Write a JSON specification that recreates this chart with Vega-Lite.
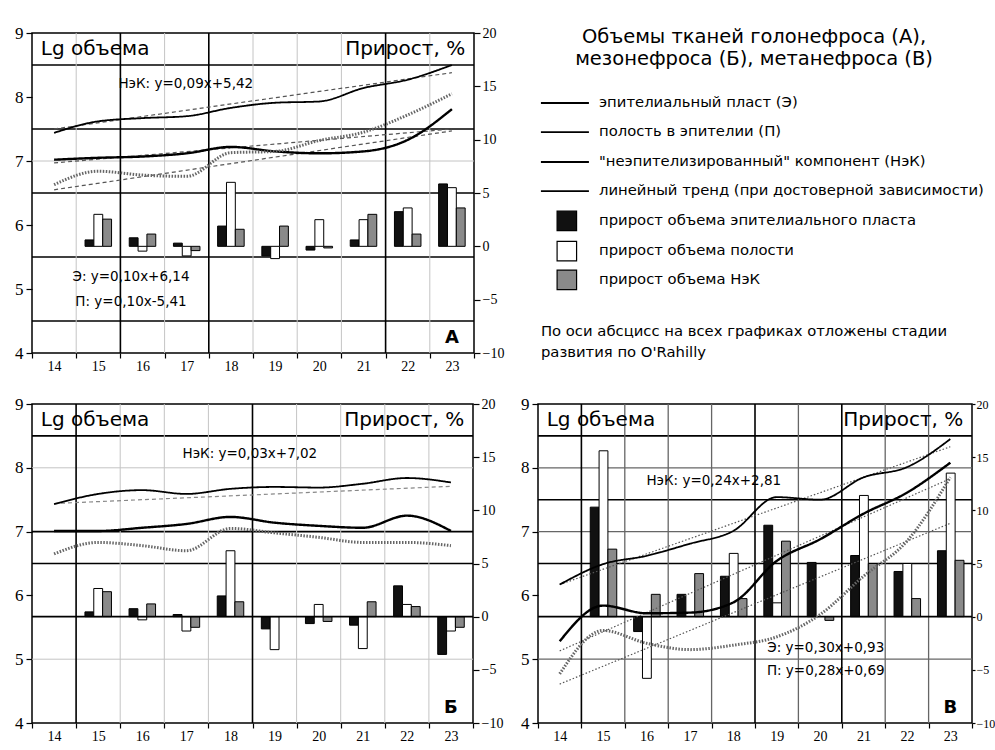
{
  "$schema": "https://vega.github.io/schema/vega-lite/v6.json",
  "background": "white",
  "padding": {"left": 13, "top": 23, "right": 0, "bottom": 0},
  "config": {
    "view": {"stroke": "#000", "strokeWidth": 1.5},
    "font": "DejaVu Sans",
    "axis": {"labelColor": "#000", "tickColor": "#000", "labelFont": "Liberation Serif", "tickWidth": 1.2}
  },
  "datasets": {
    "lines": [
      {"panel": "A", "series": "НэК", "stage": 14, "value": 7.44}, {"panel": "A", "series": "НэК", "stage": 15, "value": 7.62},
      {"panel": "A", "series": "НэК", "stage": 16, "value": 7.67}, {"panel": "A", "series": "НэК", "stage": 17, "value": 7.70},
      {"panel": "A", "series": "НэК", "stage": 18, "value": 7.83}, {"panel": "A", "series": "НэК", "stage": 19, "value": 7.91},
      {"panel": "A", "series": "НэК", "stage": 20, "value": 7.93}, {"panel": "A", "series": "НэК", "stage": 21, "value": 8.14},
      {"panel": "A", "series": "НэК", "stage": 22, "value": 8.27}, {"panel": "A", "series": "НэК", "stage": 23, "value": 8.50},
      {"panel": "A", "series": "Э", "stage": 14, "value": 7.02}, {"panel": "A", "series": "Э", "stage": 15, "value": 7.05},
      {"panel": "A", "series": "Э", "stage": 16, "value": 7.07}, {"panel": "A", "series": "Э", "stage": 17, "value": 7.12},
      {"panel": "A", "series": "Э", "stage": 18, "value": 7.22}, {"panel": "A", "series": "Э", "stage": 19, "value": 7.15},
      {"panel": "A", "series": "Э", "stage": 20, "value": 7.12}, {"panel": "A", "series": "Э", "stage": 21, "value": 7.15},
      {"panel": "A", "series": "Э", "stage": 22, "value": 7.33}, {"panel": "A", "series": "Э", "stage": 23, "value": 7.81},
      {"panel": "A", "series": "П", "stage": 14, "value": 6.63}, {"panel": "A", "series": "П", "stage": 15, "value": 6.84},
      {"panel": "A", "series": "П", "stage": 16, "value": 6.78}, {"panel": "A", "series": "П", "stage": 17, "value": 6.76},
      {"panel": "A", "series": "П", "stage": 18, "value": 7.13}, {"panel": "A", "series": "П", "stage": 19, "value": 7.15},
      {"panel": "A", "series": "П", "stage": 20, "value": 7.32}, {"panel": "A", "series": "П", "stage": 21, "value": 7.45},
      {"panel": "A", "series": "П", "stage": 22, "value": 7.72}, {"panel": "A", "series": "П", "stage": 23, "value": 8.05},
      {"panel": "B", "series": "НэК", "stage": 14, "value": 7.43}, {"panel": "B", "series": "НэК", "stage": 15, "value": 7.59},
      {"panel": "B", "series": "НэК", "stage": 16, "value": 7.65}, {"panel": "B", "series": "НэК", "stage": 17, "value": 7.59},
      {"panel": "B", "series": "НэК", "stage": 18, "value": 7.67}, {"panel": "B", "series": "НэК", "stage": 19, "value": 7.70},
      {"panel": "B", "series": "НэК", "stage": 20, "value": 7.69}, {"panel": "B", "series": "НэК", "stage": 21, "value": 7.75},
      {"panel": "B", "series": "НэК", "stage": 22, "value": 7.84}, {"panel": "B", "series": "НэК", "stage": 23, "value": 7.77},
      {"panel": "B", "series": "Э", "stage": 14, "value": 7.01}, {"panel": "B", "series": "Э", "stage": 15, "value": 7.01},
      {"panel": "B", "series": "Э", "stage": 16, "value": 7.06}, {"panel": "B", "series": "Э", "stage": 17, "value": 7.12},
      {"panel": "B", "series": "Э", "stage": 18, "value": 7.23}, {"panel": "B", "series": "Э", "stage": 19, "value": 7.14},
      {"panel": "B", "series": "Э", "stage": 20, "value": 7.09}, {"panel": "B", "series": "Э", "stage": 21, "value": 7.06},
      {"panel": "B", "series": "Э", "stage": 22, "value": 7.25}, {"panel": "B", "series": "Э", "stage": 23, "value": 7.01},
      {"panel": "B", "series": "П", "stage": 14, "value": 6.65}, {"panel": "B", "series": "П", "stage": 15, "value": 6.83},
      {"panel": "B", "series": "П", "stage": 16, "value": 6.78}, {"panel": "B", "series": "П", "stage": 17, "value": 6.70},
      {"panel": "B", "series": "П", "stage": 18, "value": 7.05}, {"panel": "B", "series": "П", "stage": 19, "value": 6.98},
      {"panel": "B", "series": "П", "stage": 20, "value": 6.91}, {"panel": "B", "series": "П", "stage": 21, "value": 6.83},
      {"panel": "B", "series": "П", "stage": 22, "value": 6.83}, {"panel": "B", "series": "П", "stage": 23, "value": 6.78},
      {"panel": "V", "series": "НэК", "stage": 14, "value": 6.17}, {"panel": "V", "series": "НэК", "stage": 15, "value": 6.49},
      {"panel": "V", "series": "НэК", "stage": 16, "value": 6.62}, {"panel": "V", "series": "НэК", "stage": 17, "value": 6.81},
      {"panel": "V", "series": "НэК", "stage": 18, "value": 7.01}, {"panel": "V", "series": "НэК", "stage": 19, "value": 7.54},
      {"panel": "V", "series": "НэК", "stage": 20, "value": 7.50}, {"panel": "V", "series": "НэК", "stage": 21, "value": 7.85},
      {"panel": "V", "series": "НэК", "stage": 22, "value": 8.01}, {"panel": "V", "series": "НэК", "stage": 23, "value": 8.45},
      {"panel": "V", "series": "Э", "stage": 14, "value": 5.28}, {"panel": "V", "series": "Э", "stage": 15, "value": 5.84},
      {"panel": "V", "series": "Э", "stage": 16, "value": 5.72}, {"panel": "V", "series": "Э", "stage": 17, "value": 5.73},
      {"panel": "V", "series": "Э", "stage": 18, "value": 5.89}, {"panel": "V", "series": "Э", "stage": 19, "value": 6.54},
      {"panel": "V", "series": "Э", "stage": 20, "value": 6.88}, {"panel": "V", "series": "Э", "stage": 21, "value": 7.28},
      {"panel": "V", "series": "Э", "stage": 22, "value": 7.61}, {"panel": "V", "series": "Э", "stage": 23, "value": 8.08},
      {"panel": "V", "series": "П", "stage": 14, "value": 4.77}, {"panel": "V", "series": "П", "stage": 15, "value": 5.45},
      {"panel": "V", "series": "П", "stage": 16, "value": 5.25}, {"panel": "V", "series": "П", "stage": 17, "value": 5.15},
      {"panel": "V", "series": "П", "stage": 18, "value": 5.22}, {"panel": "V", "series": "П", "stage": 19, "value": 5.35},
      {"panel": "V", "series": "П", "stage": 20, "value": 5.70}, {"panel": "V", "series": "П", "stage": 21, "value": 6.30},
      {"panel": "V", "series": "П", "stage": 22, "value": 6.85}, {"panel": "V", "series": "П", "stage": 23, "value": 7.85}
    ],
    "trends": [
      {"panel": "A", "series": "НэК", "stage": 14, "value": 7.50}, {"panel": "A", "series": "НэК", "stage": 23, "value": 8.38},
      {"panel": "A", "series": "Э", "stage": 14, "value": 6.97}, {"panel": "A", "series": "Э", "stage": 23, "value": 7.50},
      {"panel": "A", "series": "П", "stage": 14, "value": 6.55}, {"panel": "A", "series": "П", "stage": 23, "value": 7.47},
      {"panel": "B", "series": "НэК", "stage": 14, "value": 7.44}, {"panel": "B", "series": "НэК", "stage": 23, "value": 7.71},
      {"panel": "V", "series": "НэК", "stage": 14, "value": 6.17}, {"panel": "V", "series": "НэК", "stage": 23, "value": 8.33},
      {"panel": "V", "series": "Э", "stage": 14, "value": 5.13}, {"panel": "V", "series": "Э", "stage": 23, "value": 7.83},
      {"panel": "V", "series": "П", "stage": 14, "value": 4.61}, {"panel": "V", "series": "П", "stage": 23, "value": 7.13}
    ],
    "bars": [
      {"panel": "A", "stage": 15, "series": "Э", "growth": 0.6}, {"panel": "A", "stage": 15, "series": "П", "growth": 3.0}, {"panel": "A", "stage": 15, "series": "НэК", "growth": 2.55},
      {"panel": "A", "stage": 16, "series": "Э", "growth": 0.8}, {"panel": "A", "stage": 16, "series": "П", "growth": -0.45}, {"panel": "A", "stage": 16, "series": "НэК", "growth": 1.15},
      {"panel": "A", "stage": 17, "series": "Э", "growth": 0.3}, {"panel": "A", "stage": 17, "series": "П", "growth": -0.9}, {"panel": "A", "stage": 17, "series": "НэК", "growth": -0.4},
      {"panel": "A", "stage": 18, "series": "Э", "growth": 1.9}, {"panel": "A", "stage": 18, "series": "П", "growth": 6.0}, {"panel": "A", "stage": 18, "series": "НэК", "growth": 1.6},
      {"panel": "A", "stage": 19, "series": "Э", "growth": -0.9}, {"panel": "A", "stage": 19, "series": "П", "growth": -1.15}, {"panel": "A", "stage": 19, "series": "НэК", "growth": 1.9},
      {"panel": "A", "stage": 20, "series": "Э", "growth": -0.35}, {"panel": "A", "stage": 20, "series": "П", "growth": 2.5}, {"panel": "A", "stage": 20, "series": "НэК", "growth": -0.15},
      {"panel": "A", "stage": 21, "series": "Э", "growth": 0.6}, {"panel": "A", "stage": 21, "series": "П", "growth": 2.5}, {"panel": "A", "stage": 21, "series": "НэК", "growth": 3.0},
      {"panel": "A", "stage": 22, "series": "Э", "growth": 3.25}, {"panel": "A", "stage": 22, "series": "П", "growth": 3.6}, {"panel": "A", "stage": 22, "series": "НэК", "growth": 1.15},
      {"panel": "A", "stage": 23, "series": "Э", "growth": 5.85}, {"panel": "A", "stage": 23, "series": "П", "growth": 5.5}, {"panel": "A", "stage": 23, "series": "НэК", "growth": 3.6},
      {"panel": "B", "stage": 15, "series": "Э", "growth": 0.45}, {"panel": "B", "stage": 15, "series": "П", "growth": 2.65}, {"panel": "B", "stage": 15, "series": "НэК", "growth": 2.35},
      {"panel": "B", "stage": 16, "series": "Э", "growth": 0.75}, {"panel": "B", "stage": 16, "series": "П", "growth": -0.3}, {"panel": "B", "stage": 16, "series": "НэК", "growth": 1.2},
      {"panel": "B", "stage": 17, "series": "Э", "growth": 0.2}, {"panel": "B", "stage": 17, "series": "П", "growth": -1.35}, {"panel": "B", "stage": 17, "series": "НэК", "growth": -1.0},
      {"panel": "B", "stage": 18, "series": "Э", "growth": 1.95}, {"panel": "B", "stage": 18, "series": "П", "growth": 6.2}, {"panel": "B", "stage": 18, "series": "НэК", "growth": 1.4},
      {"panel": "B", "stage": 19, "series": "Э", "growth": -1.15}, {"panel": "B", "stage": 19, "series": "П", "growth": -3.1},
      {"panel": "B", "stage": 20, "series": "Э", "growth": -0.65}, {"panel": "B", "stage": 20, "series": "П", "growth": 1.15}, {"panel": "B", "stage": 20, "series": "НэК", "growth": -0.45},
      {"panel": "B", "stage": 21, "series": "Э", "growth": -0.8}, {"panel": "B", "stage": 21, "series": "П", "growth": -3.0}, {"panel": "B", "stage": 21, "series": "НэК", "growth": 1.4},
      {"panel": "B", "stage": 22, "series": "Э", "growth": 2.9}, {"panel": "B", "stage": 22, "series": "П", "growth": 1.15}, {"panel": "B", "stage": 22, "series": "НэК", "growth": 0.95},
      {"panel": "B", "stage": 23, "series": "Э", "growth": -3.55}, {"panel": "B", "stage": 23, "series": "П", "growth": -1.35}, {"panel": "B", "stage": 23, "series": "НэК", "growth": -1.0},
      {"panel": "V", "stage": 15, "series": "Э", "growth": 10.3}, {"panel": "V", "stage": 15, "series": "П", "growth": 15.6}, {"panel": "V", "stage": 15, "series": "НэК", "growth": 6.35},
      {"panel": "V", "stage": 16, "series": "Э", "growth": -1.4}, {"panel": "V", "stage": 16, "series": "П", "growth": -5.8}, {"panel": "V", "stage": 16, "series": "НэК", "growth": 2.1},
      {"panel": "V", "stage": 17, "series": "Э", "growth": 2.1}, {"panel": "V", "stage": 17, "series": "НэК", "growth": 4.05},
      {"panel": "V", "stage": 18, "series": "Э", "growth": 3.8}, {"panel": "V", "stage": 18, "series": "П", "growth": 5.95}, {"panel": "V", "stage": 18, "series": "НэК", "growth": 1.7},
      {"panel": "V", "stage": 19, "series": "Э", "growth": 8.6}, {"panel": "V", "stage": 19, "series": "П", "growth": 1.3}, {"panel": "V", "stage": 19, "series": "НэК", "growth": 7.1},
      {"panel": "V", "stage": 20, "series": "Э", "growth": 5.1}, {"panel": "V", "stage": 20, "series": "НэК", "growth": -0.35},
      {"panel": "V", "stage": 21, "series": "Э", "growth": 5.75}, {"panel": "V", "stage": 21, "series": "П", "growth": 11.4}, {"panel": "V", "stage": 21, "series": "НэК", "growth": 5.0},
      {"panel": "V", "stage": 22, "series": "Э", "growth": 4.25}, {"panel": "V", "stage": 22, "series": "П", "growth": 5.0}, {"panel": "V", "stage": 22, "series": "НэК", "growth": 1.7},
      {"panel": "V", "stage": 23, "series": "Э", "growth": 6.2}, {"panel": "V", "stage": 23, "series": "П", "growth": 13.5}, {"panel": "V", "stage": 23, "series": "НэК", "growth": 5.3}
    ],
    "hgrid": [
      {"panel": "A", "level": 8.5, "kind": "strong"}, {"panel": "A", "level": 7.5, "kind": "strong"}, {"panel": "A", "level": 6.5, "kind": "strong"},
      {"panel": "A", "level": 5.5, "kind": "strong"}, {"panel": "A", "level": 4.5, "kind": "strong"}, {"panel": "A", "level": 7, "kind": "light"},
      {"panel": "B", "level": 8.5, "kind": "strong"}, {"panel": "B", "level": 7, "kind": "strong"}, {"panel": "B", "level": 6.5, "kind": "strong"},
      {"panel": "B", "level": 8, "kind": "light"}, {"panel": "B", "level": 5, "kind": "light"},
      {"panel": "V", "level": 8.5, "kind": "strong"}, {"panel": "V", "level": 7.5, "kind": "strong"}, {"panel": "V", "level": 6.5, "kind": "strong"},
      {"panel": "V", "level": 8, "kind": "mid"}, {"panel": "V", "level": 7, "kind": "mid"}, {"panel": "V", "level": 5, "kind": "mid"}
    ],
    "vgrid": [
      {"panel": "A", "pos": 15.5, "kind": "strong"}, {"panel": "A", "pos": 17.5, "kind": "strong"}, {"panel": "A", "pos": 21.5, "kind": "strong"},
      {"panel": "A", "pos": 14.5, "kind": "light"}, {"panel": "A", "pos": 16.5, "kind": "light"}, {"panel": "A", "pos": 18.5, "kind": "light"},
      {"panel": "A", "pos": 19.5, "kind": "light"}, {"panel": "A", "pos": 20.5, "kind": "light"}, {"panel": "A", "pos": 22.5, "kind": "light"},
      {"panel": "B", "pos": 14.5, "kind": "strong"}, {"panel": "B", "pos": 18.5, "kind": "strong"},
      {"panel": "B", "pos": 15.5, "kind": "light"}, {"panel": "B", "pos": 16.5, "kind": "light"}, {"panel": "B", "pos": 17.5, "kind": "light"},
      {"panel": "B", "pos": 19.5, "kind": "light"}, {"panel": "B", "pos": 20.5, "kind": "light"}, {"panel": "B", "pos": 21.5, "kind": "light"}, {"panel": "B", "pos": 22.5, "kind": "light"},
      {"panel": "V", "pos": 14.5, "kind": "strong"}, {"panel": "V", "pos": 18.5, "kind": "strong"}, {"panel": "V", "pos": 20.5, "kind": "strong"},
      {"panel": "V", "pos": 15.5, "kind": "mid"}, {"panel": "V", "pos": 16.5, "kind": "mid"}, {"panel": "V", "pos": 17.5, "kind": "mid"},
      {"panel": "V", "pos": 19.5, "kind": "mid"}, {"panel": "V", "pos": 21.5, "kind": "mid"}, {"panel": "V", "pos": 22.5, "kind": "mid"}
    ],
    "notes": [
      {"panel": "A", "role": "left", "x": 13.7, "y": 8.75, "t": "Lg объема"},
      {"panel": "A", "role": "right", "x": 23.3, "y": 8.75, "t": "Прирост, %"},
      {"panel": "A", "role": "eq", "x": 16.98, "y": 8.21, "t": "НэК: y=0,09x+5,42"},
      {"panel": "A", "role": "eq", "x": 15.74, "y": 5.18, "t": "Э: y=0,10x+6,14"},
      {"panel": "A", "role": "eq", "x": 15.74, "y": 4.8, "t": "П: y=0,10x-5,41"},
      {"panel": "A", "role": "letter", "x": 23.0, "y": 4.24, "t": "А"},
      {"panel": "B", "role": "left", "x": 13.7, "y": 8.75, "t": "Lg объема"},
      {"panel": "B", "role": "right", "x": 23.3, "y": 8.75, "t": "Прирост, %"},
      {"panel": "B", "role": "eq", "x": 18.44, "y": 8.21, "t": "НэК: y=0,03x+7,02"},
      {"panel": "B", "role": "letter", "x": 23.0, "y": 4.23, "t": "Б"},
      {"panel": "V", "role": "left", "x": 13.7, "y": 8.75, "t": "Lg объема"},
      {"panel": "V", "role": "right", "x": 23.3, "y": 8.75, "t": "Прирост, %"},
      {"panel": "V", "role": "eq", "x": 17.55, "y": 7.8, "t": "НэК: y=0,24x+2,81"},
      {"panel": "V", "role": "eq", "x": 20.13, "y": 5.18, "t": "Э: y=0,30x+0,93"},
      {"panel": "V", "role": "eq", "x": 20.13, "y": 4.82, "t": "П: y=0,28x+0,69"},
      {"panel": "V", "role": "letter", "x": 23.0, "y": 4.23, "t": "В"}
    ],
    "legendTitle": [
      {"x": 49.8, "y": 1.2, "t": "Объемы тканей голонефроса (А),"},
      {"x": 49.8, "y": 7.8, "t": "мезонефроса (Б), метанефроса (В)"}
    ],
    "legendItems": [
      {"kind": "line", "series": "Э", "y": 20.9, "t": "эпителиальный пласт (Э)"},
      {"kind": "line", "series": "П", "y": 29.6, "t": "полость в эпителии (П)"},
      {"kind": "line", "series": "НэК", "y": 38.5, "t": "\"неэпителизированный\" компонент (НэК)"},
      {"kind": "line", "series": "тренд", "y": 47.2, "t": "линейный тренд (при достоверной зависимости)"},
      {"kind": "bar", "series": "Э", "y": 56.1, "t": "прирост объема эпителиального пласта"},
      {"kind": "bar", "series": "П", "y": 65.1, "t": "прирост объема полости"},
      {"kind": "bar", "series": "НэК", "y": 73.7, "t": "прирост объема НэК"}
    ],
    "legendNote": [
      {"y": 89.3, "t": "По оси абсцисс на всех графиках отложены стадии"},
      {"y": 95.5, "t": "развития по O'Rahilly"}
    ]
  },
  "spacing": 20,
  "vconcat": [
    {
      "spacing": 10,
      "hconcat": [
        {
          "width": 442,
          "height": 320,
          "layer": [
            {
              "layer": [
                {
                  "data": {"name": "hgrid"},
                  "transform": [{"filter": "datum.panel == 'A'"}],
                  "mark": "rule",
                  "encoding": {
                    "y": {"field": "level", "type": "quantitative", "scale": {"domain": [4, 9], "nice": false, "zero": false},
                          "axis": {"orient": "left", "values": [4, 5, 6, 7, 8, 9], "title": null, "grid": false, "domain": false, "tickSize": 6, "labelFontSize": 17, "labelPadding": 3}},
                    "color": {"field": "kind", "type": "nominal", "scale": {"domain": ["strong", "mid", "light"], "range": ["#000000", "#666666", "#c4c4c4"]}, "legend": null},
                    "strokeWidth": {"field": "kind", "type": "nominal", "scale": {"domain": ["strong", "mid", "light"], "range": [1.6, 1, 1]}, "legend": null}
                  }
                },
                {
                  "data": {"name": "vgrid"},
                  "transform": [{"filter": "datum.panel == 'A'"}],
                  "mark": "rule",
                  "encoding": {
                    "x": {"field": "pos", "type": "quantitative", "scale": {"domain": [13.5, 23.5], "nice": false, "zero": false}, "axis": null},
                    "color": {"field": "kind", "type": "nominal", "legend": null},
                    "strokeWidth": {"field": "kind", "type": "nominal", "legend": null}
                  }
                }
              ]
            },
            {
              "data": {"name": "bars"},
              "transform": [{"filter": "datum.panel == 'A'"}],
              "mark": {"type": "bar", "stroke": "#000", "strokeWidth": 1},
              "encoding": {
                "x": {"field": "stage", "type": "ordinal", "scale": {"domain": [14, 15, 16, 17, 18, 19, 20, 21, 22, 23], "paddingInner": 0, "paddingOuter": 0},
                      "axis": {"orient": "bottom", "title": null, "tickBand": "extent", "labelAngle": 0, "domain": false, "grid": false, "tickSize": 5, "labelFontSize": 14, "labelPadding": 1}},
                "xOffset": {"field": "series", "type": "nominal", "scale": {"domain": ["Э", "П", "НэК"], "paddingInner": 0, "paddingOuter": 1.2}},
                "y": {"field": "growth", "type": "quantitative", "scale": {"domain": [-10, 20], "nice": false},
                      "axis": {"orient": "right", "title": null, "values": [-10, -5, 0, 5, 10, 15, 20], "grid": false, "domain": false, "tickSize": 6, "labelFontSize": 14, "labelPadding": 2}},
                "fill": {"field": "series", "type": "nominal", "scale": {"domain": ["Э", "П", "НэК"], "range": ["#111111", "#ffffff", "#8a8a8a"]}, "legend": null}
              }
            },
            {
              "layer": [
                {
                  "data": {"name": "trends"},
                  "transform": [{"filter": "datum.panel == 'A'"}],
                  "mark": {"type": "line", "color": "#555", "strokeWidth": 1.2, "strokeDash": [4, 3]},
                  "encoding": {
                    "x": {"field": "stage", "type": "quantitative", "scale": {"domain": [13.5, 23.5], "nice": false, "zero": false}, "axis": null},
                    "y": {"field": "value", "type": "quantitative", "scale": {"domain": [4, 9], "nice": false, "zero": false}, "axis": null},
                    "detail": {"field": "series", "type": "nominal"}
                  }
                },
                {
                  "data": {"name": "lines"},
                  "transform": [{"filter": "datum.panel == 'A'"}],
                  "mark": {"type": "line", "interpolate": "monotone"},
                  "encoding": {
                    "x": {"field": "stage", "type": "quantitative"},
                    "y": {"field": "value", "type": "quantitative"},
                    "color": {"field": "series", "type": "nominal", "scale": {"domain": ["НэК", "Э", "П"], "range": ["#000000", "#000000", "#666666"]}, "legend": null},
                    "strokeWidth": {"field": "series", "type": "nominal", "scale": {"domain": ["НэК", "Э", "П"], "range": [1.8, 3, 1.8]}, "legend": null},
                    "strokeDash": {"field": "series", "type": "nominal", "scale": {"domain": ["НэК", "Э", "П"], "range": [[1, 0], [1, 0], [1.5, 1.5]]}, "legend": null}
                  }
                },
                {
                  "data": {"name": "notes"},
                  "transform": [{"filter": "datum.panel == 'A' && datum.role == 'left'"}],
                  "mark": {"type": "text", "align": "left", "baseline": "middle", "fontSize": 20},
                  "encoding": {"x": {"field": "x", "type": "quantitative"}, "y": {"field": "y", "type": "quantitative"}, "text": {"field": "t"}}
                },
                {
                  "data": {"name": "notes"},
                  "transform": [{"filter": "datum.panel == 'A' && datum.role == 'right'"}],
                  "mark": {"type": "text", "align": "right", "baseline": "middle", "fontSize": 20},
                  "encoding": {"x": {"field": "x", "type": "quantitative"}, "y": {"field": "y", "type": "quantitative"}, "text": {"field": "t"}}
                },
                {
                  "data": {"name": "notes"},
                  "transform": [{"filter": "datum.panel == 'A' && datum.role == 'eq'"}],
                  "mark": {"type": "text", "align": "center", "baseline": "middle", "fontSize": 13.5},
                  "encoding": {"x": {"field": "x", "type": "quantitative"}, "y": {"field": "y", "type": "quantitative"}, "text": {"field": "t"}}
                },
                {
                  "data": {"name": "notes"},
                  "transform": [{"filter": "datum.panel == 'A' && datum.role == 'letter'"}],
                  "mark": {"type": "text", "align": "center", "baseline": "middle", "fontSize": 18, "fontWeight": "bold"},
                  "encoding": {"x": {"field": "x", "type": "quantitative"}, "y": {"field": "y", "type": "quantitative"}, "text": {"field": "t"}}
                }
              ]
            }
          ],
          "resolve": {"scale": {"x": "independent", "y": "independent", "color": "independent", "strokeWidth": "independent"}}
        },
        {
          "width": 480,
          "height": 335,
          "view": {"stroke": null},
          "layer": [
            {
              "data": {"name": "legendTitle"},
              "mark": {"type": "text", "align": "center", "baseline": "middle", "fontSize": 19.5},
              "encoding": {
                "x": {"field": "x", "type": "quantitative", "scale": {"domain": [0, 100]}, "axis": null},
                "y": {"field": "y", "type": "quantitative", "scale": {"domain": [0, 100], "reverse": true}, "axis": null},
                "text": {"field": "t"}
              }
            },
            {
              "data": {"name": "legendItems"},
              "transform": [{"filter": "datum.kind == 'line'"}],
              "mark": {"type": "rule", "color": "#000", "strokeWidth": 1.8},
              "encoding": {"x": {"datum": 5.4}, "x2": {"datum": 15.4}, "y": {"field": "y", "type": "quantitative"}}
            },
            {
              "data": {"name": "legendItems"},
              "transform": [{"filter": "datum.kind == 'bar'"}],
              "mark": {"type": "square", "size": 380, "stroke": "#000", "strokeWidth": 1.2, "opacity": 1, "filled": true},
              "encoding": {
                "x": {"datum": 10.8},
                "y": {"field": "y", "type": "quantitative"},
                "fill": {"field": "series", "type": "nominal", "scale": {"domain": ["Э", "П", "НэК"], "range": ["#111111", "#ffffff", "#8a8a8a"]}, "legend": null}
              }
            },
            {
              "data": {"name": "legendItems"},
              "mark": {"type": "text", "align": "left", "baseline": "middle", "fontSize": 14.8},
              "encoding": {"x": {"datum": 17.5}, "y": {"field": "y", "type": "quantitative"}, "text": {"field": "t"}}
            },
            {
              "data": {"name": "legendNote"},
              "mark": {"type": "text", "align": "left", "baseline": "middle", "fontSize": 14.8},
              "encoding": {"x": {"datum": 5.4}, "y": {"field": "y", "type": "quantitative"}, "text": {"field": "t"}}
            }
          ]
        }
      ]
    },
    {
      "spacing": 15,
      "hconcat": [
        {
          "width": 441,
          "height": 319,
          "layer": [
            {
              "layer": [
                {
                  "data": {"name": "hgrid"},
                  "transform": [{"filter": "datum.panel == 'B'"}],
                  "mark": "rule",
                  "encoding": {
                    "y": {"field": "level", "type": "quantitative", "scale": {"domain": [4, 9], "nice": false, "zero": false},
                          "axis": {"orient": "left", "values": [4, 5, 6, 7, 8, 9], "title": null, "grid": false, "domain": false, "tickSize": 6, "labelFontSize": 17, "labelPadding": 3}},
                    "color": {"field": "kind", "type": "nominal", "scale": {"domain": ["strong", "mid", "light"], "range": ["#000000", "#666666", "#c4c4c4"]}, "legend": null},
                    "strokeWidth": {"field": "kind", "type": "nominal", "scale": {"domain": ["strong", "mid", "light"], "range": [1.6, 1, 1]}, "legend": null}
                  }
                },
                {
                  "data": {"name": "vgrid"},
                  "transform": [{"filter": "datum.panel == 'B'"}],
                  "mark": "rule",
                  "encoding": {
                    "x": {"field": "pos", "type": "quantitative", "scale": {"domain": [13.5, 23.5], "nice": false, "zero": false}, "axis": null},
                    "color": {"field": "kind", "type": "nominal", "legend": null},
                    "strokeWidth": {"field": "kind", "type": "nominal", "legend": null}
                  }
                }
              ]
            },
            {
              "layer": [
                {
                  "data": {"name": "bars"},
                  "transform": [{"filter": "datum.panel == 'B'"}],
                  "mark": {"type": "bar", "stroke": "#000", "strokeWidth": 1},
                  "encoding": {
                    "x": {"field": "stage", "type": "ordinal", "scale": {"domain": [14, 15, 16, 17, 18, 19, 20, 21, 22, 23], "paddingInner": 0, "paddingOuter": 0},
                          "axis": {"orient": "bottom", "title": null, "tickBand": "extent", "labelAngle": 0, "domain": false, "grid": false, "tickSize": 5, "labelFontSize": 14, "labelPadding": 1}},
                    "xOffset": {"field": "series", "type": "nominal", "scale": {"domain": ["Э", "П", "НэК"], "paddingInner": 0, "paddingOuter": 1.2}},
                    "y": {"field": "growth", "type": "quantitative", "scale": {"domain": [-10, 20], "nice": false},
                          "axis": {"orient": "right", "title": null, "values": [-10, -5, 0, 5, 10, 15, 20], "grid": false, "domain": false, "tickSize": 6, "labelFontSize": 14, "labelPadding": 2}},
                    "fill": {"field": "series", "type": "nominal", "scale": {"domain": ["Э", "П", "НэК"], "range": ["#111111", "#ffffff", "#8a8a8a"]}, "legend": null}
                  }
                },
                {
                  "data": {"values": [{"growth": 0}]},
                  "mark": {"type": "rule", "color": "#000", "strokeWidth": 1.6},
                  "encoding": {"y": {"field": "growth", "type": "quantitative"}}
                }
              ]
            },
            {
              "layer": [
                {
                  "data": {"name": "trends"},
                  "transform": [{"filter": "datum.panel == 'B'"}],
                  "mark": {"type": "line", "color": "#888", "strokeWidth": 1.2, "strokeDash": [4, 3]},
                  "encoding": {
                    "x": {"field": "stage", "type": "quantitative", "scale": {"domain": [13.5, 23.5], "nice": false, "zero": false}, "axis": null},
                    "y": {"field": "value", "type": "quantitative", "scale": {"domain": [4, 9], "nice": false, "zero": false}, "axis": null},
                    "detail": {"field": "series", "type": "nominal"}
                  }
                },
                {
                  "data": {"name": "lines"},
                  "transform": [{"filter": "datum.panel == 'B'"}],
                  "mark": {"type": "line", "interpolate": "monotone"},
                  "encoding": {
                    "x": {"field": "stage", "type": "quantitative"},
                    "y": {"field": "value", "type": "quantitative"},
                    "color": {"field": "series", "type": "nominal", "scale": {"domain": ["НэК", "Э", "П"], "range": ["#000000", "#000000", "#666666"]}, "legend": null},
                    "strokeWidth": {"field": "series", "type": "nominal", "scale": {"domain": ["НэК", "Э", "П"], "range": [1.8, 3, 1.8]}, "legend": null},
                    "strokeDash": {"field": "series", "type": "nominal", "scale": {"domain": ["НэК", "Э", "П"], "range": [[1, 0], [1, 0], [1.5, 1.5]]}, "legend": null}
                  }
                },
                {
                  "data": {"name": "notes"},
                  "transform": [{"filter": "datum.panel == 'B' && datum.role == 'left'"}],
                  "mark": {"type": "text", "align": "left", "baseline": "middle", "fontSize": 20},
                  "encoding": {"x": {"field": "x", "type": "quantitative"}, "y": {"field": "y", "type": "quantitative"}, "text": {"field": "t"}}
                },
                {
                  "data": {"name": "notes"},
                  "transform": [{"filter": "datum.panel == 'B' && datum.role == 'right'"}],
                  "mark": {"type": "text", "align": "right", "baseline": "middle", "fontSize": 20},
                  "encoding": {"x": {"field": "x", "type": "quantitative"}, "y": {"field": "y", "type": "quantitative"}, "text": {"field": "t"}}
                },
                {
                  "data": {"name": "notes"},
                  "transform": [{"filter": "datum.panel == 'B' && datum.role == 'eq'"}],
                  "mark": {"type": "text", "align": "center", "baseline": "middle", "fontSize": 13.5},
                  "encoding": {"x": {"field": "x", "type": "quantitative"}, "y": {"field": "y", "type": "quantitative"}, "text": {"field": "t"}}
                },
                {
                  "data": {"name": "notes"},
                  "transform": [{"filter": "datum.panel == 'B' && datum.role == 'letter'"}],
                  "mark": {"type": "text", "align": "center", "baseline": "middle", "fontSize": 18, "fontWeight": "bold"},
                  "encoding": {"x": {"field": "x", "type": "quantitative"}, "y": {"field": "y", "type": "quantitative"}, "text": {"field": "t"}}
                }
              ]
            }
          ],
          "resolve": {"scale": {"x": "independent", "y": "independent", "color": "independent", "strokeWidth": "independent"}}
        },
        {
          "width": 434,
          "height": 319,
          "layer": [
            {
              "layer": [
                {
                  "data": {"name": "hgrid"},
                  "transform": [{"filter": "datum.panel == 'V'"}],
                  "mark": "rule",
                  "encoding": {
                    "y": {"field": "level", "type": "quantitative", "scale": {"domain": [4, 9], "nice": false, "zero": false},
                          "axis": {"orient": "left", "values": [4, 5, 6, 7, 8, 9], "title": null, "grid": false, "domain": false, "tickSize": 6, "labelFontSize": 17, "labelPadding": 3}},
                    "color": {"field": "kind", "type": "nominal", "scale": {"domain": ["strong", "mid", "light"], "range": ["#000000", "#666666", "#c4c4c4"]}, "legend": null},
                    "strokeWidth": {"field": "kind", "type": "nominal", "scale": {"domain": ["strong", "mid", "light"], "range": [1.6, 1, 1]}, "legend": null}
                  }
                },
                {
                  "data": {"name": "vgrid"},
                  "transform": [{"filter": "datum.panel == 'V'"}],
                  "mark": "rule",
                  "encoding": {
                    "x": {"field": "pos", "type": "quantitative", "scale": {"domain": [13.5, 23.5], "nice": false, "zero": false}, "axis": null},
                    "color": {"field": "kind", "type": "nominal", "legend": null},
                    "strokeWidth": {"field": "kind", "type": "nominal", "legend": null}
                  }
                }
              ]
            },
            {
              "layer": [
                {
                  "data": {"name": "bars"},
                  "transform": [{"filter": "datum.panel == 'V'"}],
                  "mark": {"type": "bar", "stroke": "#000", "strokeWidth": 1},
                  "encoding": {
                    "x": {"field": "stage", "type": "ordinal", "scale": {"domain": [14, 15, 16, 17, 18, 19, 20, 21, 22, 23], "paddingInner": 0, "paddingOuter": 0},
                          "axis": {"orient": "bottom", "title": null, "tickBand": "extent", "labelAngle": 0, "domain": false, "grid": false, "tickSize": 5, "labelFontSize": 14, "labelPadding": 1}},
                    "xOffset": {"field": "series", "type": "nominal", "scale": {"domain": ["Э", "П", "НэК"], "paddingInner": 0, "paddingOuter": 1.2}},
                    "y": {"field": "growth", "type": "quantitative", "scale": {"domain": [-10, 20], "nice": false},
                          "axis": {"orient": "right", "title": null, "values": [-10, -5, 0, 5, 10, 15, 20], "grid": false, "domain": false, "tickSize": 3, "labelFontSize": 12, "labelPadding": 1}},
                    "fill": {"field": "series", "type": "nominal", "scale": {"domain": ["Э", "П", "НэК"], "range": ["#111111", "#ffffff", "#8a8a8a"]}, "legend": null}
                  }
                },
                {
                  "data": {"values": [{"growth": 0}]},
                  "mark": {"type": "rule", "color": "#000", "strokeWidth": 1.6},
                  "encoding": {"y": {"field": "growth", "type": "quantitative"}}
                }
              ]
            },
            {
              "layer": [
                {
                  "data": {"name": "trends"},
                  "transform": [{"filter": "datum.panel == 'V'"}],
                  "mark": {"type": "line", "color": "#555", "strokeWidth": 1.2, "strokeDash": [1.5, 2]},
                  "encoding": {
                    "x": {"field": "stage", "type": "quantitative", "scale": {"domain": [13.5, 23.5], "nice": false, "zero": false}, "axis": null},
                    "y": {"field": "value", "type": "quantitative", "scale": {"domain": [4, 9], "nice": false, "zero": false}, "axis": null},
                    "detail": {"field": "series", "type": "nominal"}
                  }
                },
                {
                  "data": {"name": "lines"},
                  "transform": [{"filter": "datum.panel == 'V'"}],
                  "mark": {"type": "line", "interpolate": "monotone"},
                  "encoding": {
                    "x": {"field": "stage", "type": "quantitative"},
                    "y": {"field": "value", "type": "quantitative"},
                    "color": {"field": "series", "type": "nominal", "scale": {"domain": ["НэК", "Э", "П"], "range": ["#000000", "#000000", "#666666"]}, "legend": null},
                    "strokeWidth": {"field": "series", "type": "nominal", "scale": {"domain": ["НэК", "Э", "П"], "range": [1.8, 3, 1.8]}, "legend": null},
                    "strokeDash": {"field": "series", "type": "nominal", "scale": {"domain": ["НэК", "Э", "П"], "range": [[1, 0], [1, 0], [1.5, 1.5]]}, "legend": null}
                  }
                },
                {
                  "data": {"name": "notes"},
                  "transform": [{"filter": "datum.panel == 'V' && datum.role == 'left'"}],
                  "mark": {"type": "text", "align": "left", "baseline": "middle", "fontSize": 20},
                  "encoding": {"x": {"field": "x", "type": "quantitative"}, "y": {"field": "y", "type": "quantitative"}, "text": {"field": "t"}}
                },
                {
                  "data": {"name": "notes"},
                  "transform": [{"filter": "datum.panel == 'V' && datum.role == 'right'"}],
                  "mark": {"type": "text", "align": "right", "baseline": "middle", "fontSize": 20},
                  "encoding": {"x": {"field": "x", "type": "quantitative"}, "y": {"field": "y", "type": "quantitative"}, "text": {"field": "t"}}
                },
                {
                  "data": {"name": "notes"},
                  "transform": [{"filter": "datum.panel == 'V' && datum.role == 'eq'"}],
                  "mark": {"type": "text", "align": "center", "baseline": "middle", "fontSize": 13.5},
                  "encoding": {"x": {"field": "x", "type": "quantitative"}, "y": {"field": "y", "type": "quantitative"}, "text": {"field": "t"}}
                },
                {
                  "data": {"name": "notes"},
                  "transform": [{"filter": "datum.panel == 'V' && datum.role == 'letter'"}],
                  "mark": {"type": "text", "align": "center", "baseline": "middle", "fontSize": 18, "fontWeight": "bold"},
                  "encoding": {"x": {"field": "x", "type": "quantitative"}, "y": {"field": "y", "type": "quantitative"}, "text": {"field": "t"}}
                }
              ]
            }
          ],
          "resolve": {"scale": {"x": "independent", "y": "independent", "color": "independent", "strokeWidth": "independent"}}
        }
      ]
    }
  ]
}
